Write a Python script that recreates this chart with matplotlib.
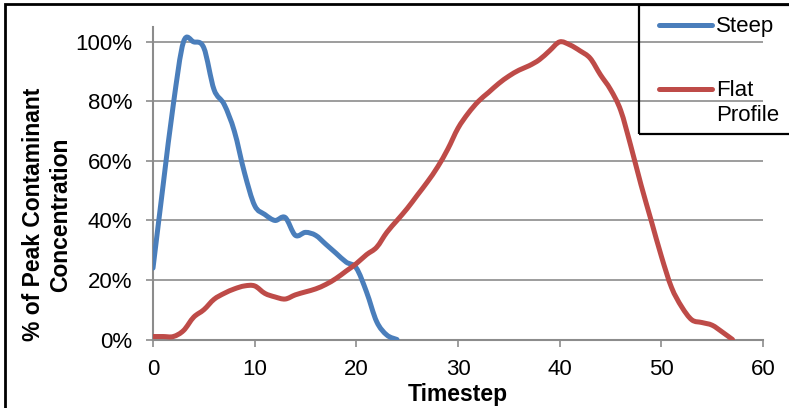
import numpy as np
import matplotlib
matplotlib.use("Agg")
import matplotlib.pyplot as plt
from matplotlib.path import Path
from matplotlib.patches import PathPatch, Rectangle
from matplotlib.lines import Line2D
from matplotlib.ticker import PercentFormatter

plt.rcParams['font.family'] = ['Liberation Sans', 'DejaVu Sans']

# data (fraction of peak concentration per timestep)
steep_t = list(range(0, 25))
steep = [0.24, 0.52, 0.79, 1.00, 1.00, 0.98, 0.84, 0.79, 0.70, 0.56,
         0.45, 0.42, 0.40, 0.41, 0.35, 0.36, 0.35, 0.32, 0.29, 0.26,
         0.24, 0.16, 0.06, 0.015, 0.0]

flat_t = list(range(0, 58))
flat = [0.01, 0.01, 0.01, 0.03, 0.075, 0.10, 0.135, 0.155, 0.17, 0.18,
        0.18, 0.155, 0.143, 0.136, 0.15, 0.16, 0.17, 0.185, 0.205, 0.23,
        0.255, 0.285, 0.31, 0.36, 0.40, 0.44, 0.485, 0.53, 0.58, 0.64,
        0.71, 0.76, 0.80, 0.83, 0.86, 0.885, 0.905, 0.92, 0.94, 0.97,
        1.00, 0.99, 0.97, 0.945, 0.89, 0.84, 0.77, 0.65, 0.52, 0.40,
        0.28, 0.175, 0.11, 0.066, 0.057, 0.048, 0.025, 0.0]

labels = ["Steep", "Flat\nProfile"]
colors = ["#4A7EBB", "#BE4B48"]


def smooth_path(x, y):
    """Excel-style smoothed line: Catmull-Rom segments as cubic Beziers"""
    x = np.asarray(x, float)
    y = np.asarray(y, float)
    n = len(x)
    verts = [(x[0], y[0])]
    codes = [Path.MOVETO]
    for i in range(n - 1):
        x0, y0 = (x[i - 1], y[i - 1]) if i > 0 else (x[i], y[i])
        x3, y3 = (x[i + 2], y[i + 2]) if i + 2 < n else (x[i + 1], y[i + 1])
        c1 = (x[i] + (x[i + 1] - x0) / 6, y[i] + (y[i + 1] - y0) / 6)
        c2 = (x[i + 1] - (x3 - x[i]) / 6, y[i + 1] - (y3 - y[i]) / 6)
        verts += [c1, c2, (x[i + 1], y[i + 1])]
        codes += [Path.CURVE4] * 3
    return Path(verts, codes)


W, H = 789, 408
fig = plt.figure(figsize=(W / 100, H / 100), dpi=100)
ax = fig.add_axes([153 / W, 68.5 / H, 610 / W, 312.5 / H])

for (tx, vals), col in zip([(steep_t, steep), (flat_t, flat)], colors):
    ax.add_patch(PathPatch(smooth_path(tx, vals), fill=False, edgecolor=col,
                           lw=3.6, capstyle='round', joinstyle='round', zorder=3))

ax.set_xlim(0, 60)
ax.set_ylim(0, 1.05)
ax.set_xticks(range(0, 61, 10))
ax.set_yticks(np.arange(0, 1.01, 0.2))
ax.yaxis.set_major_formatter(PercentFormatter(1.0, decimals=0))
ax.grid(axis='y', color='#8c8c8c', lw=1.2)
ax.set_axisbelow(True)
for s in ['top', 'right']:
    ax.spines[s].set_visible(False)
for s in ['left', 'bottom']:
    ax.spines[s].set_color('#8c8c8c')
    ax.spines[s].set_linewidth(1.5)
ax.tick_params(axis='both', colors='#8c8c8c', width=1.2, length=5,
               labelsize=16, labelcolor='black')
ax.tick_params(axis='y', pad=10)
ax.tick_params(axis='x', pad=9)

ax.set_xlabel("Timestep", fontsize=16.5, fontweight='bold', labelpad=2)
ax.set_ylabel("% of Peak Contaminant\nConcentration", fontsize=16.5,
              fontweight='bold', linespacing=1.2)
ax.yaxis.set_label_coords(-0.133, 0.40)

# legend box drawn by hand: Excel aligns the key with the first text line
def fx(px):
    return px / W


def fy(py):
    return 1 - py / H


fig.patches.append(Rectangle((fx(639), fy(134)), fx(800) - fx(639), fy(5) - fy(134),
                             transform=fig.transFigure, fill=False,
                             edgecolor='black', lw=1.6, zorder=5))
for lab, col, py in zip(labels, colors, [25, 89]):
    fig.lines.append(Line2D([fx(659), fx(712)], [fy(py), fy(py)], color=col,
                            lw=3.6, solid_capstyle='round',
                            transform=fig.transFigure))
    fig.text(fx(716), fy(py - 9), lab, fontsize=16, va='top', ha='left',
             linespacing=1.25)

# outer chart border (cropped on right/bottom)
fig.patches.append(Rectangle((5 / W, -0.05), 1.0, 1 - 4 / H + 0.05,
                             transform=fig.transFigure, fill=False,
                             edgecolor='black', lw=2, zorder=0))

fig.savefig("out.png", dpi=100)
